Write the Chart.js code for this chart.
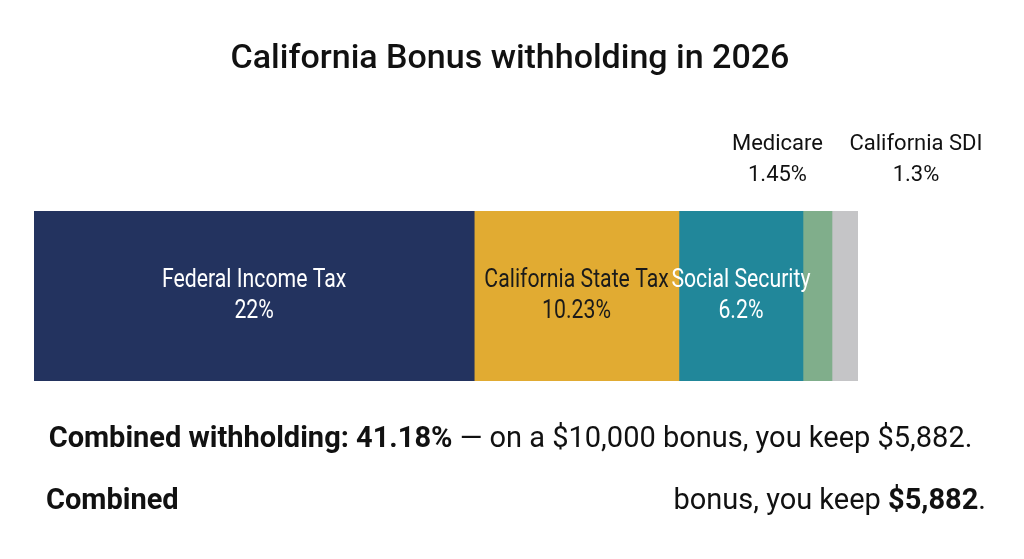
<!DOCTYPE html>
<html lang="en">
<head>
  <meta charset="UTF-8" />
  <title>California Bonus withholding in 2026</title>
  <script src="https://cdn.jsdelivr.net/npm/chart.js"></script>
  <style>
    html, body { margin: 0; padding: 0; background: #fff; }
    body { width: 1024px; height: 559px; position: relative; overflow: hidden; font-family: Roboto, "Noto Sans", sans-serif; color: #111; }
    #wrap { position: absolute; left: 0; top: 0; width: 1024px; height: 559px; }
    .txt { position: absolute; white-space: nowrap; }
    #title { left: 0; width: 1020px; top: 36px; text-align: center; font-size: 34px; font-weight: 500; }
    #summary { left: 0; width: 1021px; top: 420px; text-align: center; font-size: 29px; }
    #left2 { left: 46px; top: 482px; font-size: 29px; font-weight: 700; }
    #right2 { right: 38px; top: 482px; font-size: 29px; }
    b { font-weight: 700; }
  </style>
</head>
<body>
  <div id="wrap"><canvas id="taxChart" width="1024" height="559"></canvas></div>
  <div id="title" class="txt">California Bonus withholding in 2026</div>
  <div id="summary" class="txt"><b>Combined withholding: 41.18%</b> — on a $10,000 bonus, you keep $5,882.</div>
  <div id="left2" class="txt">Combined</div>
  <div id="right2" class="txt">bonus, you keep <b>$5,882</b>.</div>

  <script>
    // withholding pieces (percent of bonus)
    const categories = ["Federal Income Tax", "California State Tax", "Social Security", "Medicare", "California SDI"];
    const rates = [22, 10.23, 6.2, 1.45, 1.3];
    const rateLabels = ["22%", "10.23%", "6.2%", "1.45%", "1.3%"];
    const colors = ["#23335f", "#e1ab32", "#21879a", "#80ae8b", "#c5c5c7"];
    const textColors = ["#ffffff", "#1a1a1a", "#ffffff", "#1a1a1a", "#1a1a1a"];

    const total = rates.reduce((a, b) => a + b, 0);

    // narrow text, the labels in the bar look condensed
    function squeezeText(ctx, str, x, y, sx) {
      ctx.save();
      ctx.translate(x, y);
      ctx.scale(sx, 1);
      ctx.fillText(str, 0, 0);
      ctx.restore();
    }

    // draws names + rates inside big segments, above for the thin ones
    const segLabels = {
      id: "segLabels",
      afterDatasetsDraw(chart) {
        const ctx = chart.ctx;
        ctx.save();
        ctx.textAlign = "center";
        ctx.textBaseline = "middle";
        chart.data.datasets.forEach((ds, i) => {
          const bar = chart.getDatasetMeta(i).data[0];
          const x0 = bar.base, x1 = bar.x;
          const cx = (x0 + x1) / 2;
          if (i < 3) {
            ctx.fillStyle = textColors[i];
            ctx.font = "25px Roboto";
            squeezeText(ctx, categories[i], cx, bar.y - 15, 0.85);
            squeezeText(ctx, rateLabels[i], cx, bar.y + 16, 0.85);
          } else {
            // small slices get their label above the bar
            const lx = i === 3 ? cx - 40 : x1 + 58;
            ctx.fillStyle = "#111";
            ctx.font = "22px Roboto";
            ctx.fillText(categories[i], lx, bar.y - 152);
            ctx.fillText(rateLabels[i], lx, bar.y - 121);
          }
        });
        ctx.restore();
      }
    };

    new Chart(document.getElementById("taxChart"), {
      type: "bar",
      data: {
        labels: [""],
        datasets: categories.map((c, i) => ({
          label: c,
          data: [rates[i]],
          backgroundColor: colors[i],
          borderWidth: 0,
          barPercentage: 1,
          categoryPercentage: 1
        }))
      },
      options: {
        indexAxis: "y",
        responsive: false,
        animation: false,
        layout: { padding: { left: 34, right: 166, top: 211, bottom: 178 } },
        plugins: { legend: { display: false }, tooltip: { enabled: false }, title: { display: false } },
        scales: {
          x: { stacked: true, min: 0, max: total, display: false },
          y: { stacked: true, display: false }
        }
      },
      plugins: [segLabels]
    });
  </script>
</body>
</html>
